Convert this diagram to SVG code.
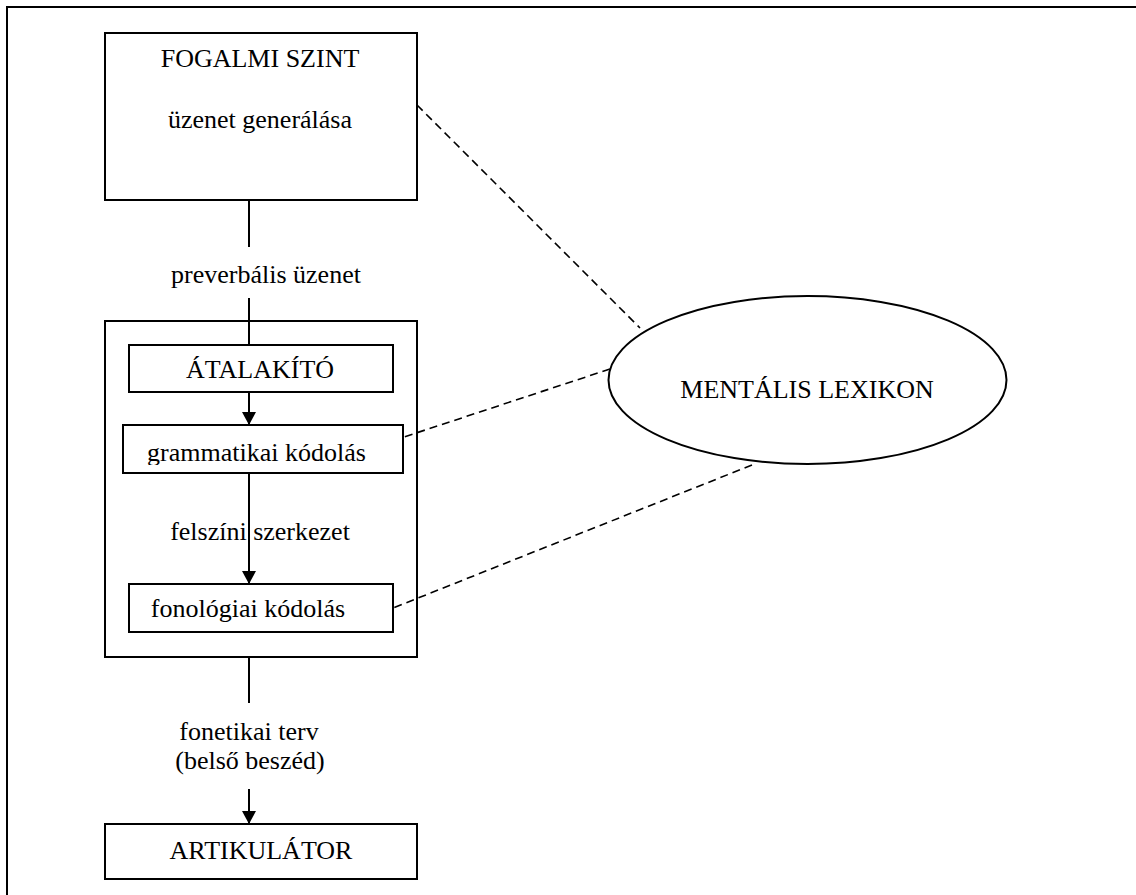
<svg xmlns="http://www.w3.org/2000/svg" width="1136" height="895" viewBox="0 0 1136 895">
<style>
.box{fill:none;stroke:#000;stroke-width:2}
.ln{fill:none;stroke:#000;stroke-width:2}
.dash{fill:none;stroke:#000;stroke-width:1.6;stroke-dasharray:8 5}
text{font-family:"Liberation Serif","Times New Roman",serif;font-size:26px;fill:#000;text-anchor:middle}
</style>
<defs>
<marker id="arr" markerUnits="userSpaceOnUse" markerWidth="15" markerHeight="15" refX="13" refY="7" orient="auto">
<path d="M0,0 L13,7 L0,14 Z" fill="#000"/>
</marker>
<clipPath id="cg"><rect x="123" y="425" width="280" height="40"/></clipPath>
<clipPath id="cf"><rect x="129" y="584" width="264" height="39"/></clipPath>
</defs>
<rect x="0" y="0" width="1136" height="895" fill="#fff"/>
<g id="frame">
<line class="ln" x1="7" y1="7" x2="1136" y2="7"/>
<line class="ln" x1="7" y1="6" x2="7" y2="895"/>
</g>
<g id="connectors">
<line class="ln" x1="249" y1="200" x2="249" y2="247"/>
<line class="ln" x1="249" y1="298" x2="249" y2="345"/>
<line class="ln" x1="249" y1="392" x2="249" y2="425" marker-end="url(#arr)"/>
<line class="ln" x1="249" y1="473" x2="249" y2="584" marker-end="url(#arr)"/>
<line class="ln" x1="249" y1="657" x2="249" y2="703"/>
<line class="ln" x1="249" y1="789" x2="249" y2="824" marker-end="url(#arr)"/>
<line class="dash" x1="417" y1="105" x2="640" y2="328"/>
<line class="dash" x1="610" y1="369" x2="404" y2="437"/>
<line class="dash" x1="752" y1="465" x2="393" y2="608"/>
</g>
<g id="fogalmi">
<rect class="box" x="105" y="33" width="312" height="167"/>
<text x="260" y="67">FOGALMI SZINT</text>
<text x="260" y="128">üzenet generálása</text>
</g>
<g id="label-preverbalis">
<text x="266" y="283">preverbális üzenet</text>
</g>
<g id="formulator">
<rect class="box" x="105" y="321" width="312" height="336"/>
</g>
<g id="atalakito">
<rect class="box" x="129" y="345" width="264" height="47"/>
<text x="260" y="378">ÁTALAKÍTÓ</text>
</g>
<g id="grammatikai">
<text x="256.5" y="461" clip-path="url(#cg)">grammatikai kódolás</text>
<rect class="box" x="123" y="425" width="280" height="48"/>
</g>
<g id="label-felszini">
<text x="260" y="540">felszíni szerkezet</text>
</g>
<g id="fonologiai">
<text x="248" y="617" clip-path="url(#cf)">fonológiai kódolás</text>
<rect class="box" x="129" y="584" width="264" height="48"/>
</g>
<g id="label-fonetikai">
<text x="249" y="740">fonetikai terv</text>
<text x="250" y="769">(belső beszéd)</text>
</g>
<g id="artikulator">
<rect class="box" x="105" y="824" width="312" height="55"/>
<text x="261" y="859">ARTIKULÁTOR</text>
</g>
<g id="lexikon">
<ellipse class="box" cx="807.5" cy="380" rx="199" ry="84"/>
<text x="807" y="398">MENTÁLIS LEXIKON</text>
</g>
</svg>
